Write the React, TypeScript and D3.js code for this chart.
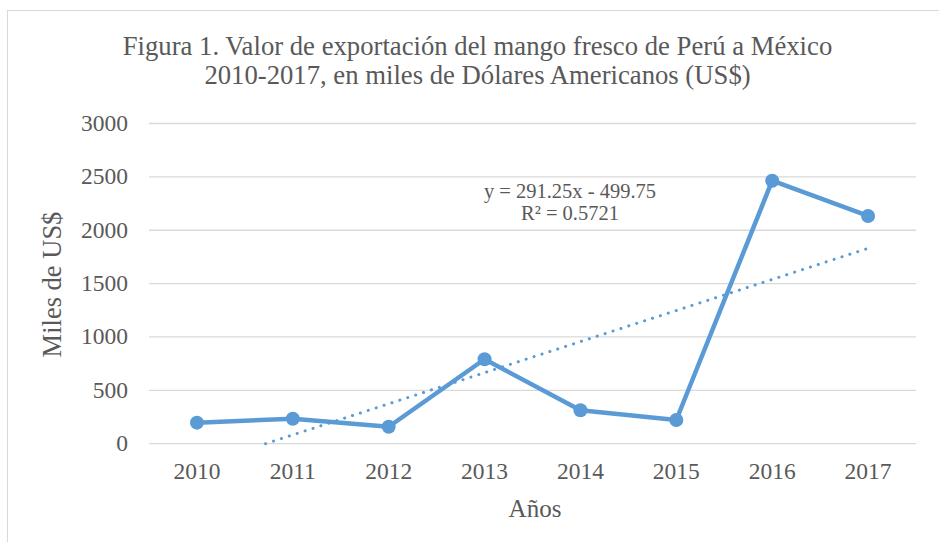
import React, { useEffect, useRef } from "react";
import * as d3 from "d3";

// values (miles de US$)
const years = ["2010", "2011", "2012", "2013", "2014", "2015", "2016", "2017"];
const values = [197, 234, 159, 791, 313, 222, 2464, 2134];
const yTicks = [0, 500, 1000, 1500, 2000, 2500, 3000];

// linear trendline shown on the chart
const trendSlope = 291.25;
const trendIntercept = -499.75;
const trendLabel = ["y = 291.25x - 499.75", "R\u00b2 = 0.5721"];

const titleLines = [
  "Figura 1. Valor de exportación del mango fresco de Perú a México",
  "2010-2017, en miles de Dólares Americanos (US$)",
];

const W = 939;
const H = 542;
const FONT = "'Liberation Serif', 'Times New Roman', serif";
const TEXT = "#595959";
const BLUE = "#5B9BD5";

function App() {
  const svgRef = useRef<SVGSVGElement>(null);

  useEffect(() => {
    const svg = d3.select(svgRef.current);
    svg.selectAll("*").remove();

    const margin = { top: 123.5, right: 23, bottom: 98.3, left: 149 };

    // chart border
    svg.append("rect")
      .attr("x", 7.5).attr("y", 10.5)
      .attr("width", W).attr("height", H)
      .attr("fill", "white").attr("stroke", "#d9d9d9");

    const x = d3.scaleBand()
      .domain(years)
      .range([margin.left, W - margin.right]);

    const y = d3.scaleLinear()
      .domain([0, 3000])
      .range([H - margin.bottom, margin.top]);

    const cx = (i: number) => (x(years[i]) as number) + x.bandwidth() / 2;

    // title
    svg.append("g")
      .selectAll("text")
      .data(titleLines)
      .enter()
      .append("text")
      .attr("x", 477.5)
      .attr("y", (d, i) => 55 + i * 29)
      .attr("text-anchor", "middle")
      .style("font-family", FONT)
      .style("font-size", "26.7px")
      .style("fill", TEXT)
      .text(d => d);

    // gridlines
    svg.append("g")
      .selectAll("line")
      .data(yTicks)
      .enter()
      .append("line")
      .attr("x1", margin.left)
      .attr("x2", W - margin.right)
      .attr("y1", d => y(d))
      .attr("y2", d => y(d))
      .attr("stroke", "#d9d9d9")
      .attr("stroke-width", 1.3);

    // Y axis labels
    svg.append("g")
      .selectAll("text")
      .data(yTicks)
      .enter()
      .append("text")
      .attr("x", 128)
      .attr("y", d => y(d) + 7.5)
      .attr("text-anchor", "end")
      .style("font-family", FONT)
      .style("font-size", "23.5px")
      .style("fill", TEXT)
      .text(d => d);

    // X axis labels
    svg.append("g")
      .selectAll("text")
      .data(years)
      .enter()
      .append("text")
      .attr("x", (d, i) => cx(i))
      .attr("y", 479)
      .attr("text-anchor", "middle")
      .style("font-family", FONT)
      .style("font-size", "23.5px")
      .style("fill", TEXT)
      .text(d => d);

    // axis titles
    svg.append("text")
      .attr("x", 535)
      .attr("y", 517)
      .attr("text-anchor", "middle")
      .style("font-family", FONT)
      .style("font-size", "25px")
      .style("fill", TEXT)
      .text("Años");

    svg.append("text")
      .attr("transform", "translate(61, 284.5) rotate(-90)")
      .attr("text-anchor", "middle")
      .style("font-family", FONT)
      .style("font-size", "26.5px")
      .style("fill", TEXT)
      .text("Miles de US$");

    // trendline, clipped at the axis minimum (0)
    const xAt = (k: number) => cx(0) + (k - 1) * x.step();
    const kStart = Math.max(1, -trendIntercept / trendSlope);
    const trendPts: [number, number][] = [kStart, years.length].map(k => [xAt(k), y(trendSlope * k + trendIntercept)]);
    svg.append("path")
      .attr("d", d3.line()(trendPts))
      .attr("fill", "none")
      .attr("stroke", BLUE)
      .attr("stroke-width", 3)
      .attr("stroke-linecap", "round")
      .attr("stroke-dasharray", "0.1 8.2");

    // series line
    const line = d3.line<number>()
      .x((d, i) => cx(i))
      .y(d => y(d));

    svg.append("path")
      .datum(values)
      .attr("d", line)
      .attr("fill", "none")
      .attr("stroke", BLUE)
      .attr("stroke-width", 4.5)
      .attr("stroke-linejoin", "round");

    svg.append("g")
      .selectAll("circle")
      .data(values)
      .enter()
      .append("circle")
      .attr("cx", (d, i) => cx(i))
      .attr("cy", d => y(d))
      .attr("r", 7)
      .style("fill", BLUE);

    // trendline equation
    svg.append("g")
      .selectAll("text")
      .data(trendLabel)
      .enter()
      .append("text")
      .attr("x", 570)
      .attr("y", (d, i) => 198 + i * 22)
      .attr("text-anchor", "middle")
      .style("font-family", FONT)
      .style("font-size", "20.5px")
      .style("fill", TEXT)
      .text(d => d);
  }, []);

  return (
    <div style={{ position: "absolute", left: 0, top: 0 }}>
      <svg ref={svgRef} width={W} height={H}></svg>
    </div>
  );
}

export default App;
